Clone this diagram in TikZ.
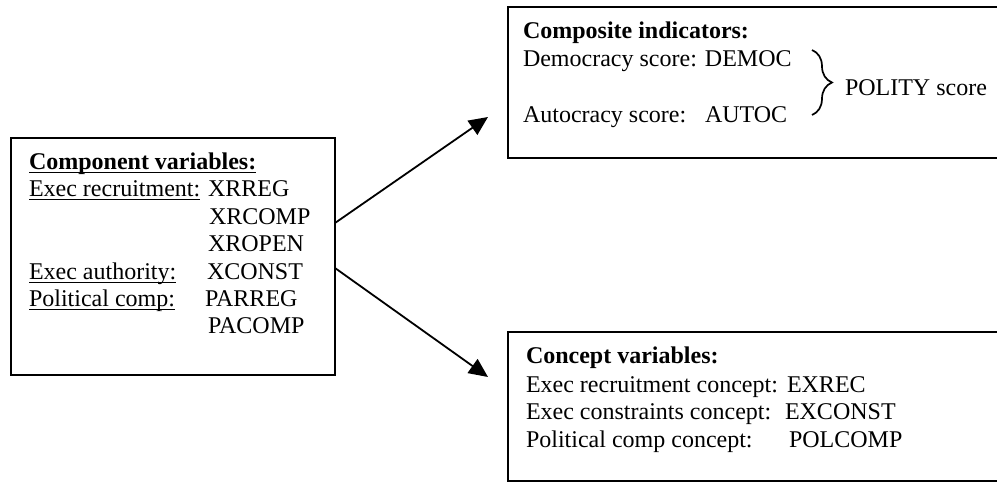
\documentclass[tikz,border=0pt]{standalone}
\usepackage{fontspec}
\setmainfont{Liberation Serif}
\usepackage{tikz}
\usetikzlibrary{arrows.meta, positioning, decorations.pathreplacing}

% underline at a fixed depth, through the descenders
\newcommand{\uln}[1]{\setbox0\hbox{#1}\rlap{\rule[-1.8pt]{\wd0}{0.5pt}}\box0}

\tikzset{
    panel/.style={rectangle, draw=black, line width=1pt, anchor=north west,
                  inner sep=0pt, outer sep=0pt},
    txt/.style={anchor=base west, inner sep=0pt, outer sep=0pt},
    link/.style={line width=0.9pt, -{Triangle[length=9.5pt, width=8.5pt]}}
}

\begin{document}
\begin{tikzpicture}[x=0.5pt, y=-0.5pt, font=\fontsize{12pt}{14pt}\selectfont]
    \useasboundingbox (0,0) rectangle (997,483);
    \clip (0,0) rectangle (997,483);

    % Three panels
    \node[panel, minimum width=162pt, minimum height=118.5pt] (comp) at (11,138) {};
    \node[panel, minimum width=246pt, minimum height=75.5pt] (indic) at (508,7) {};
    \node[panel, minimum width=246pt, minimum height=74.5pt] (concept) at (508,332) {};

    % Component variables
    \node[txt] (compHead) at (29,169) {\uln{\textbf{Component variables:}}};
    \node[txt] (recLbl) at (29,196) {\uln{Exec recruitment:}};
    \node[txt] (xrreg) at (208,196) {XRREG};
    \node[txt] (xrcomp) at (209,224) {XRCOMP};
    \node[txt] (xropen) at (208,251) {XROPEN};
    \node[txt] (authLbl) at (29,279) {\uln{Exec authority:}};
    \node[txt] (xconst) at (207,279) {XCONST};
    \node[txt] (polLbl) at (29,306) {\uln{Political comp:}};
    \node[txt] (parreg) at (205,306) {PARREG};
    \node[txt] (pacomp) at (208,333) {PACOMP};

    % Composite indicators
    \node[txt] (indicHead) at (523,38) {\textbf{Composite indicators:}};
    \node[txt] (democ) at (523,66) {Democracy score: DEMOC};
    \node[txt] (autoLbl) at (523,122) {Autocracy score:};
    \node[txt] (autoc) at (705,122) {AUTOC};
    \coordinate (braceTop) at (812,50);
    \coordinate (braceBot) at (812,115);
    \draw[line width=0.85pt, decorate, decoration={brace, amplitude=10pt}]
        (braceTop) -- (braceBot);
    \node[txt] (polity) at (845,95) {POLITY score};

    % Concept variables
    \node[txt] (conHead) at (526,363) {\textbf{Concept variables:}};
    \node[txt] (exrecLbl) at (526,392) {Exec recruitment concept:};
    \node[txt] (exrec) at (787,392) {EXREC};
    \node[txt] (exconLbl) at (526,419) {Exec constraints concept:};
    \node[txt] (excon) at (785,419) {EXCONST};
    \node[txt] (polcLbl) at (526,447) {Political comp concept:};
    \node[txt] (polcomp) at (789,447) {POLCOMP};

    % Arrows
    \coordinate (upStart) at ([yshift=16.75pt]comp.east);
    \coordinate (dnStart) at ([yshift=-5.75pt]comp.east);
    \coordinate (upTip) at (488,117);
    \coordinate (dnTip) at (488,377);
    \draw[link] (upStart) -- (upTip);
    \draw[link] (dnStart) -- (dnTip);
\end{tikzpicture}
\end{document}
